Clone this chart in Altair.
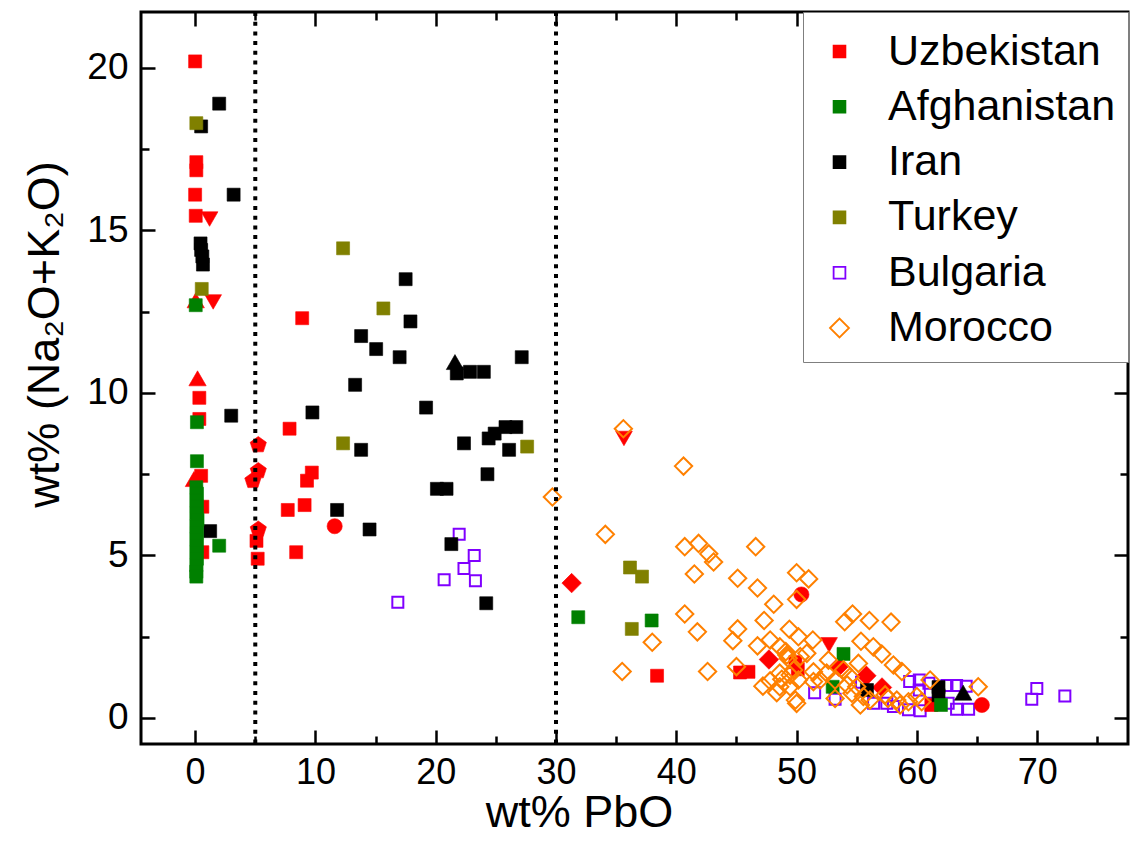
import altair as alt
import pandas as pd

countries = ["Uzbekistan", "Afghanistan", "Iran", "Turkey", "Bulgaria", "Morocco"]
colors = ["#FF0000", "#008000", "#000000", "#808000", "#8000FF", "#FF8000"]

# ---- data: (wt% PbO, wt% Na2O+K2O) ----
uzb_square = [(0.0, 20.2), (0.1, 17.1), (0.1, 16.85), (0.0, 16.1), (0.05, 15.45), (0.35, 9.85),
              (0.35, 9.2), (0.5, 7.45), (0.6, 6.5), (0.6, 5.1), (8.9, 12.3), (7.85, 8.9), (9.7, 7.55),
              (9.3, 7.3), (7.7, 6.4), (9.1, 6.55), (5.1, 5.45), (5.2, 4.9), (8.4, 5.1), (38.4, 1.3),
              (45.3, 1.4), (46.0, 1.42), (49.9, 1.72), (50.1, 1.5), (61.2, 0.4)]
uzb_down = [(1.2, 15.35), (1.5, 12.8), (35.65, 8.6), (52.7, 2.25)]
uzb_up = [(0.05, 12.85), (0.2, 10.45), (-0.1, 7.35)]
uzb_pent = [(5.25, 8.4), (5.25, 7.6), (4.8, 7.3), (5.25, 5.8)]
uzb_circle = [(11.6, 5.9), (50.4, 3.8), (65.4, 0.4)]
uzb_diamond = [(31.3, 4.15), (47.7, 1.8), (53.5, 1.58), (55.8, 1.3), (57.1, 0.94)]

afg_square = [(0.05, 12.7), (0.15, 9.1), (0.15, 7.9), (0.1, 7.1), (0.15, 6.9), (0.1, 6.7), (0.15, 6.5),
              (0.1, 6.3), (0.2, 6.1), (0.1, 5.9), (0.15, 5.7), (0.1, 5.5), (0.15, 5.3), (0.1, 5.1),
              (0.15, 4.9), (0.1, 4.7), (0.1, 4.5), (0.1, 4.35), (2.0, 5.3), (31.85, 3.1), (37.95, 3.0),
              (53.9, 1.97), (53.0, 0.96), (62.0, 0.4)]

irn_square = [(2.0, 18.9), (0.5, 18.2), (3.2, 16.1), (0.45, 14.6), (0.5, 14.4), (0.6, 14.2), (0.65, 13.95),
              (3.0, 9.3), (9.75, 9.4), (1.25, 5.75), (11.8, 6.4), (17.5, 13.5), (17.9, 12.2), (13.8, 11.75),
              (15.05, 11.35), (17.0, 11.1), (21.75, 10.6), (22.85, 10.65), (24.0, 10.65), (27.15, 11.1),
              (13.3, 10.25), (19.2, 9.55), (24.4, 8.6), (24.9, 8.75), (25.8, 8.95), (26.7, 8.95),
              (22.35, 8.45), (13.8, 8.25), (26.1, 8.25), (24.3, 7.5), (20.1, 7.05), (20.9, 7.05),
              (14.5, 5.8), (21.3, 5.35), (24.2, 3.53), (55.85, 0.86), (61.8, 0.95), (61.8, 0.7)]
irn_up = [(21.6, 10.95), (63.85, 0.78)]

tur_square = [(0.1, 18.3), (0.55, 13.2), (12.3, 14.45), (15.65, 12.6), (12.3, 8.45), (27.6, 8.35),
              (36.15, 4.63), (37.15, 4.35), (36.3, 2.74)]

bul_square = [(21.95, 5.65), (23.2, 5.0), (22.35, 4.6), (20.7, 4.25), (23.3, 4.22), (16.85, 3.56),
              (51.5, 0.78), (53.2, 0.58), (55.4, 1.1), (56.4, 0.45), (57.5, 0.45), (58.05, 0.35),
              (59.3, 0.25), (60.27, 0.22), (59.4, 1.12), (60.2, 1.17), (60.2, 0.86), (61.0, 1.07),
              (61.24, 0.45), (62.5, 1.0), (63.3, 1.0), (62.6, 0.45), (63.3, 0.27), (64.1, 0.98),
              (64.3, 0.27), (69.55, 0.58), (69.97, 0.91), (72.3, 0.68)]

mor_diamond = [(29.7, 6.8), (35.6, 8.9), (40.6, 7.75), (34.1, 5.65), (40.7, 5.27), (41.85, 5.37),
               (42.7, 5.05), (43.1, 4.8), (46.6, 5.27), (41.5, 4.43), (45.1, 4.3), (46.75, 4.0),
               (50.0, 4.47), (51.0, 4.28), (40.7, 3.2), (41.75, 2.65), (38.0, 2.33), (35.5, 1.43),
               (42.6, 1.43), (45.1, 2.74), (44.7, 2.38), (48.1, 3.5), (47.3, 3.0), (49.4, 2.73),
               (46.75, 2.22), (47.8, 2.4), (50.0, 3.65), (45.0, 1.58), (47.2, 0.98), (47.8, 1.14),
               (48.35, 0.78), (48.77, 1.19), (49.19, 1.94), (49.9, 0.55), (50.15, 1.17), (54.0, 2.96),
               (54.65, 3.2), (56.05, 3.0), (57.85, 2.95), (50.15, 2.5), (51.35, 2.4), (55.35, 2.36),
               (56.38, 2.19), (57.08, 1.97), (48.6, 2.19), (49.1, 2.04), (49.3, 1.84), (49.75, 1.48),
               (50.3, 1.89), (50.85, 1.99), (51.4, 1.42), (51.95, 1.17), (51.4, 1.12), (52.65, 1.78),
               (52.5, 1.38), (53.2, 1.17), (53.9, 1.48), (54.45, 1.27), (54.2, 1.02), (54.6, 0.76),
               (55.14, 1.68), (53.2, 0.6), (55.0, 0.96), (55.55, 0.66), (57.36, 0.71), (58.05, 1.63),
               (58.75, 1.43), (58.33, 0.55), (59.3, 0.5), (60.0, 0.66), (60.4, 0.5), (61.1, 1.17),
               (65.1, 0.96), (50.0, 0.45), (49.46, 1.32), (48.6, 1.38), (48.6, 0.96), (49.46, 0.96),
               (57.6, 0.6), (56.1, 0.55), (55.3, 0.4), (58.6, 0.4)]

vlines = [5, 30]
x_major = [0, 10, 20, 30, 40, 50, 60, 70]
x_all = [0, 5, 10, 15, 20, 25, 30, 35, 40, 45, 50, 55, 60, 65, 70, 75]
y_major = [0, 5, 10, 15, 20]
y_all = [0, 2.5, 5, 7.5, 10, 12.5, 15, 17.5, 20]

# ---- styles ----
PENT = "M0,-1L0.951,-0.309L0.588,0.809L-0.588,0.809L-0.951,-0.309Z"
SQ = "M-0.62,-0.62L0.62,-0.62L0.62,0.62L-0.62,0.62Z"
STYLE = {
    "square": ("square", 169, True),
    "circle": ("circle", 230, True),
    "up": ("triangle-up", 300, True),
    "down": ("triangle-down", 280, True),
    "diamond": ("diamond", 380, True),
    "pentagon": (PENT, 290, True),
    "open-square": ("square", 121, False),
    "open-diamond": ("diamond", 300, False),
}
col = dict(zip(countries, colors))

series = [
    ("Bulgaria", "open-square", bul_square),
    ("Uzbekistan", "square", uzb_square),
    ("Uzbekistan", "down", uzb_down),
    ("Uzbekistan", "up", uzb_up),
    ("Uzbekistan", "pentagon", uzb_pent),
    ("Uzbekistan", "circle", uzb_circle),
    ("Uzbekistan", "diamond", uzb_diamond),
    ("Iran", "square", irn_square),
    ("Iran", "up", irn_up),
    ("Turkey", "square", tur_square),
    ("Afghanistan", "square", afg_square),
    ("Morocco", "open-diamond", mor_diamond),
]
rows = []
for country, kind, pts in series:
    shp, sz, filled = STYLE[kind]
    c = col[country]
    for px, py in pts:
        rows.append({"x": px, "y": py, "country": country, "shape": shp, "size": sz,
                     "fill": c if filled else "transparent", "stroke": c,
                     "sw": 0.6 if filled else 2.0})
df = pd.DataFrame(rows)
leg_df = pd.DataFrame({"country": countries, "x": [None] * 6, "y": [None] * 6})

FONT = "Liberation Sans, Arial, sans-serif"
W, H = 987, 732
xs = alt.Scale(domain=[-4.5, 77.55], nice=False, zero=False)
ys = alt.Scale(domain=[-0.8, 21.72], nice=False, zero=False)

tick_x = {"condition": {"test": "datum.value % 10 === 0", "value": 14}, "value": 8}
tick_y = {"condition": {"test": "datum.value % 5 === 0", "value": 14}, "value": 8}
tick_common = dict(labels=False, domain=False, grid=False, tickWidth=2.5, tickColor="black", title=None)

ax_x_lab = alt.Axis(values=x_major, orient="bottom", ticks=False, tickSize=0, domain=False, grid=False,
                    labelFont=FONT, labelFontSize=36, labelColor="black", labelPadding=11,
                    title="wt% PbO", titleFont=FONT, titleFontSize=45, titleFontWeight="normal",
                    titleColor="black", titleX=438, titleY=82, titleBaseline="alphabetic")
ax_y_lab = alt.Axis(values=y_major, orient="left", ticks=False, tickSize=0, domain=False, grid=False,
                    labelFont=FONT, labelFontSize=37, labelColor="black", labelPadding=13,
                    title="wt% (Na₂O+K₂O)", titleFont=FONT, titleFontSize=45, titleFontWeight="normal",
                    titleColor="black", titleX=-83, titleY=322, titleAngle=270,
                    titleBaseline="alphabetic", titleAlign="center")
ax_x_bot_in = alt.Axis(values=x_all, orient="top", offset=-H, tickSize=tick_x, **tick_common)
ax_x_top_in = alt.Axis(values=x_all, orient="bottom", offset=-H, tickSize=tick_x, **tick_common)
ax_y_left_in = alt.Axis(values=y_all, orient="right", offset=-W, tickSize=tick_y, **tick_common)
ax_y_right_in = alt.Axis(values=y_all, orient="left", offset=-W, tickSize=tick_y, **tick_common)

points = alt.Chart(df).mark_point(opacity=1, filled=False).encode(
    x=alt.X("x:Q", scale=xs, axis=ax_x_lab),
    y=alt.Y("y:Q", scale=ys, axis=ax_y_lab),
    shape=alt.Shape("shape:N", scale=None),
    size=alt.Size("size:Q", scale=None),
    fill=alt.Fill("fill:N", scale=None),
    stroke=alt.Stroke("stroke:N", scale=None),
    strokeWidth=alt.StrokeWidth("sw:Q", scale=None),
)

legend_props = dict(orient="none", legendX=662, legendY=0, title=" ", titleFontSize=2, titlePadding=4,
                    labelFont=FONT, labelFontSize=43,
                    labelColor="black", labelLimit=500, symbolSize=361, symbolStrokeWidth=1.8,
                    padding=12, rowPadding=11.3, labelOffset=27, symbolOffset=3,
                    strokeColor="#7f7f7f", fillColor="white")
legend_layer = alt.Chart(leg_df).mark_point(opacity=1, filled=False).encode(
    x=alt.X("x:Q", scale=xs, axis=ax_x_bot_in),
    y=alt.Y("y:Q", scale=ys, axis=ax_y_left_in),
    shape=alt.Shape("country:N", scale=alt.Scale(domain=countries, range=[SQ] * 5 + ["diamond"]),
                    legend=alt.Legend(**legend_props)),
    fill=alt.Fill("country:N", scale=alt.Scale(domain=countries,
                                                range=colors[:4] + ["transparent", "transparent"]),
                  legend=alt.Legend(**legend_props)),
    stroke=alt.Stroke("country:N", scale=alt.Scale(domain=countries, range=colors),
                      legend=alt.Legend(**legend_props)),
)

rules = alt.Chart(pd.DataFrame({"xv": vlines})).mark_rule(
    color="black", strokeWidth=4, strokeDash=[4, 5.7]
).encode(x=alt.X("xv:Q", scale=xs, axis=ax_x_top_in))

axis_layer = alt.Chart(leg_df).mark_point(opacity=0).encode(
    x=alt.X("x:Q", scale=xs, axis=None),
    y=alt.Y("y:Q", scale=ys, axis=ax_y_right_in),
)

chart = alt.layer(points, legend_layer, rules, axis_layer).resolve_scale(
    shape="independent", fill="independent", stroke="independent", size="independent"
).resolve_axis(x="independent", y="independent").properties(
    width=W, height=H,
    padding={"left": 141, "top": 12, "right": 5, "bottom": 103},
    autosize=alt.AutoSizeParams(type="none"),
    background="white",
).configure_view(stroke="black", strokeWidth=3)

chart.save("out.html", embed_options={"renderer": "svg", "actions": False})
